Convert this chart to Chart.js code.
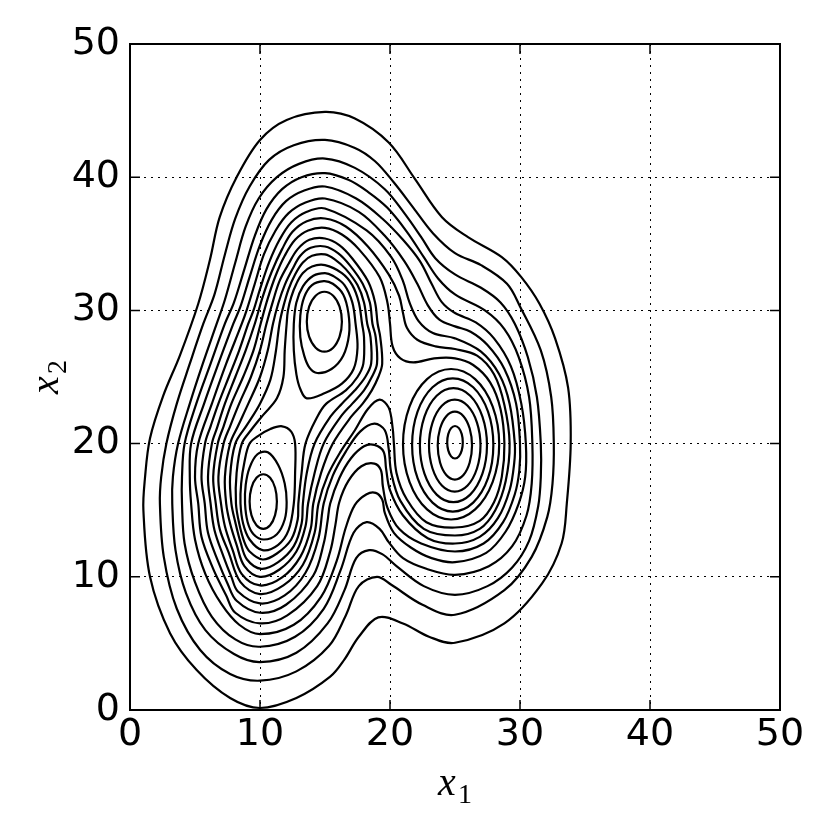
<!DOCTYPE html>
<html>
<head>
<meta charset="utf-8">
<script src="https://cdn.jsdelivr.net/npm/chart.js@4/dist/chart.umd.min.js"></script>
<style>
  html, body { margin: 0; padding: 0; background: #fff; }
  canvas { display: block; }
</style>
</head>
<body>
<canvas id="contour" width="830" height="830"></canvas>
<script>
// Axis ticks (both axes)
const tickValues = [0, 10, 20, 30, 40, 50];

// Contour lines, outer level first: [x1, x2] points
// levels 1-9 enclose all three peaks
const level01 = [[10,0.15],[12.8,0.9],[15.4,2.5],[16.5,3.8],[17.6,5.5],[19.1,6.95],[21.0,6.5],[23,5.5],[25,5.05],[28.8,6.5],[31.7,9.5],[33.2,12.5],[33.6,15.5],[33.9,20],[33.7,24.2],[32.7,27.9],[31.5,30.5],[30.1,32.5],[28.6,34.0],[26,35.5],[24,37.0],[21.9,39.9],[19.9,42.6],[17.3,44.4],[15,44.9],[12.05,44.3],[10,42.8],[8.2,40.0],[6.9,37.0],[6.15,33.8],[5.25,30.5],[3.85,26.65],[2.56,23.6],[1.54,20.4],[1.15,17.4],[1.03,15.0],[1.54,10.0],[3.08,5.77],[5.13,3.0],[7.7,0.9]];
const level02 = [[10,2.2],[12.8,2.9],[15.3,4.8],[16.6,7.1],[17.6,9.3],[19.0,10.0],[20.1,9.4],[22.5,7.9],[25,7.15],[28.8,9.0],[30.9,11.5],[32.1,14.5],[32.5,17],[32.6,20],[32.4,23.5],[31.6,27],[30.0,30.3],[29.0,32.0],[27.0,33.4],[25,34.3],[23.3,35.8],[21.8,37.7],[20.3,39.6],[18.85,41.2],[17.3,42.2],[15,42.8],[12.6,42.4],[10.7,41.3],[9.2,39.3],[8.1,36.9],[7.3,34.2],[6.5,31.2],[5.64,29],[4.6,26],[3.6,23],[2.8,20],[2.4,17.5],[2.3,15.5],[2.6,11.5],[3.6,7.6],[5.4,4.5],[7.7,2.7]];
const level03 = [[10,3.6],[12.8,4.3],[15.2,6.5],[16.5,9.0],[17.4,11.4],[18.4,12.0],[19.4,11.7],[20.5,10.8],[22.6,9.3],[25,8.65],[27.5,9.3],[29.4,10.7],[30.7,12.7],[31.4,15.3],[31.6,17.5],[31.6,20],[31.3,23.5],[30.6,26.5],[29.6,29.0],[28.5,30.6],[27.0,31.7],[25,32.7],[23.5,33.9],[22.4,35.5],[21.1,37.3],[19.6,39.1],[17.3,40.7],[15,41.4],[13.0,41.0],[11.3,40.0],[9.9,38.4],[8.9,36.3],[8.1,33.6],[7.3,30.8],[6.67,29],[5.6,26],[4.6,23],[3.7,20],[3.3,17.5],[3.25,15.5],[3.5,12],[4.3,8.8],[5.8,6.0],[8.0,4.2]];
const level04 = [[10,4.75],[12.7,5.5],[14.9,7.6],[16.2,10.5],[17.2,13.3],[18.2,14.1],[19.2,13.6],[19.9,12.6],[21.0,11.4],[22.8,10.6],[25,10.15],[27.6,10.8],[29.4,12.3],[30.5,14.6],[30.9,17],[30.95,20],[30.7,23.5],[29.9,26.5],[28.8,28.6],[27.3,30.0],[25,31.2],[23.7,32.4],[22.6,34.0],[21.3,35.9],[19.8,37.7],[18.3,38.9],[16.8,39.8],[15,40.3],[13.2,40.0],[11.7,39.1],[10.5,37.6],[9.6,35.6],[8.8,33.1],[8.0,30.6],[7.3,29],[6.2,26],[5.1,23],[4.2,20],[4.0,17.5],[4.0,15.5],[4.2,12.5],[5.0,9.6],[6.3,7.0],[8.1,5.3]];
const level05 = [[10,5.7],[12.6,6.4],[14.7,8.5],[15.9,11.2],[16.6,13.7],[17.3,15.4],[18.2,16.2],[18.9,16.3],[19.4,15.8],[19.6,14.8],[20.3,13.3],[21.6,12.2],[23.2,11.4],[25,11.1],[27.4,11.8],[28.9,13.4],[29.9,15.5],[30.4,17.5],[30.45,20],[30.1,23],[29.3,25.8],[28.0,27.9],[26.6,29.1],[25,29.8],[24.0,30.6],[23.2,32.0],[22.3,33.7],[21.0,35.3],[19.4,36.9],[17.4,38.4],[15,39.3],[13.4,39.0],[12.0,38.2],[10.9,36.8],[10.0,34.9],[9.2,32.5],[8.5,30.3],[7.95,29],[6.8,26],[5.7,23],[4.7,20],[4.6,17.5],[4.7,15.5],[5.0,12.8],[5.8,10.2],[7.0,8.0],[8.4,6.4]];
const level06 = [[10,6.5],[12.1,7.1],[14.4,9.3],[15.4,11.9],[15.8,13.9],[16.1,15.6],[16.8,17.2],[17.8,18.3],[18.8,18.5],[19.3,18.0],[19.45,16.8],[19.8,15.2],[20.7,13.6],[22.4,12.5],[25,11.9],[27.2,12.5],[28.7,14.1],[29.6,16.2],[29.95,18],[30.0,20],[29.7,23],[28.8,25.6],[27.5,27.4],[26.2,28.4],[25,28.8],[23.8,29.3],[22.9,30.4],[22.1,32.0],[21.1,33.7],[19.6,35.6],[17.6,37.4],[15,38.4],[13.5,38.1],[12.2,37.3],[11.2,36.0],[10.3,34.2],[9.6,32.0],[9.0,30.1],[8.6,29],[7.4,26],[6.3,23],[5.25,20],[5.0,17.5],[5.25,15.5],[5.5,13],[6.4,10.6],[7.4,8.6],[8.1,7.3]];
const level07 = [[10,7.3],[12.0,7.9],[14.1,10.1],[14.9,12.5],[15.2,14.2],[15.4,15.5],[16.1,17.4],[17.0,18.9],[18.0,19.8],[18.8,19.9],[19.5,19.4],[19.7,18.1],[20.0,16.5],[21.0,14.6],[22.9,12.9],[25,12.5],[26.9,13.0],[28.3,14.4],[29.2,16.5],[29.55,18.5],[29.6,20],[29.2,23],[28.4,25.2],[27.0,26.9],[25,27.9],[23.3,28.3],[22.2,29.2],[21.5,30.6],[21.0,32.2],[20.1,34.0],[18.2,36.0],[15,37.65],[13.6,37.4],[12.4,36.6],[11.5,35.3],[10.7,33.6],[10.0,31.6],[9.5,30.0],[9.1,29],[8.4,27],[7.6,25],[6.8,23],[6.2,21.3],[5.77,20],[5.5,17.5],[5.75,15.5],[6.0,13.3],[6.8,11.1],[7.5,9.5],[8.2,8.2]];
const level08 = [[10,8.0],[11.9,8.6],[13.5,10.3],[14.5,12.9],[14.9,15.5],[15.6,17.6],[16.6,19.4],[17.7,20.9],[18.8,21.5],[19.6,21.0],[19.9,19.6],[20.1,17.8],[20.8,15.7],[22.6,13.6],[25,13.1],[26.9,13.6],[28.1,15.0],[28.9,17.2],[29.2,20],[28.8,22.9],[28.0,25.2],[26.7,26.6],[25,27.1],[23.5,27.3],[22.1,27.8],[21.3,28.7],[21.0,29.8],[20.7,31.1],[19.9,32.7],[18.3,34.8],[16.6,36.3],[15,36.9],[13.6,36.7],[12.5,35.9],[11.7,34.6],[10.9,32.9],[10.2,31.0],[9.6,29],[8.9,27],[8.1,25],[7.3,23],[6.7,21.2],[6.3,20],[6.0,17.5],[6.2,15.5],[6.5,13.5],[7.2,11.5],[7.8,10.0],[8.3,8.9]];
const level09 = [[10,8.7],[11.8,9.35],[13.3,10.9],[14.2,13.3],[14.5,15.5],[15.2,17.6],[16.2,19.4],[17.3,21.0],[18.3,22.6],[19.2,23.3],[19.9,22.7],[20.2,21.2],[20.3,20],[20.5,17.8],[21.3,15.8],[22.8,14.1],[25,13.7],[26.9,14.2],[28.0,15.6],[28.6,17.5],[28.8,20],[28.5,22.6],[27.7,24.6],[26.4,25.9],[25,26.4],[23.4,26.4],[21.8,26.1],[20.8,26.4],[20.2,27.3],[20.0,29],[19.8,30.6],[19.2,32.5],[17.6,34.6],[16.3,35.7],[15,36.2],[13.7,36.0],[12.7,35.3],[11.9,34.1],[11.2,32.6],[10.6,30.9],[10.05,29],[9.5,27],[8.7,25],[7.8,23],[7.2,21.3],[6.75,20],[6.4,17.5],[6.6,15.5],[6.9,13.6],[7.6,11.8],[8.5,9.6]];

// levels 10-13 enclose the upper and lower-left peaks
const level10 = [[10,9.35],[11.7,9.95],[13.1,11.5],[13.9,13.6],[14.1,15.5],[14.7,17.8],[15.6,20],[17.0,22],[17.9,23],[18.6,24],[19.1,25],[19.4,26],[19.25,28],[19.05,29],[18.85,30.6],[18.3,32.2],[17.1,33.9],[16.1,34.9],[15,35.4],[13.8,35.3],[12.9,34.6],[12.2,33.5],[11.5,32.2],[11.0,30.7],[10.5,29],[10.0,27],[9.3,25],[8.4,23],[7.7,21.3],[7.2,20],[6.8,17.5],[7.0,15.5],[7.3,13.8],[7.9,12.0],[8.6,10.2]];
const level11 = [[10,10.0],[11.5,10.55],[12.8,11.9],[13.5,13.8],[13.7,15.5],[14.2,17.8],[14.9,20],[16.2,22],[17.1,23],[18.0,24],[18.6,25],[19.0,26],[18.9,28],[18.65,29],[18.45,30.6],[17.9,32.0],[16.9,33.4],[16.0,34.3],[15,34.8],[13.9,34.7],[13.1,34.1],[12.5,33.1],[11.9,31.9],[11.4,30.5],[11.0,29],[10.6,27],[10.0,25],[9.1,23],[8.3,21.3],[7.7,20],[7.3,17.5],[7.4,15.5],[7.7,14.0],[8.2,12.4],[8.8,10.8]];
const level12 = [[10.1,10.6],[11.4,11.1],[12.6,12.3],[13.2,14.0],[13.3,15.5],[13.6,17.8],[14.2,20],[15.4,22],[16.3,23],[17.3,24],[18.1,25],[18.55,26],[18.5,28],[18.25,29],[18.0,30.6],[17.5,31.9],[16.6,33.1],[15.8,33.8],[15,34.2],[14.0,34.1],[13.3,33.6],[12.7,32.7],[12.2,31.6],[11.8,30.3],[11.5,29],[11.2,26.8],[10.8,24.8],[10.0,23.0],[9.0,21.4],[8.1,20],[7.7,17.5],[7.8,15.5],[8.1,14.1],[8.5,12.6],[9.0,11.3]];
const level13 = [[10.2,11.3],[11.3,11.75],[12.4,12.8],[12.9,14.3],[12.95,15.5],[13.2,17.8],[13.5,20],[14.4,22],[15.1,23],[16.6,24],[17.5,25],[17.95,26],[18.0,28],[17.85,29],[17.6,30.6],[17.1,31.9],[16.3,32.8],[15,33.4],[14.0,33.3],[13.3,32.8],[12.8,32.0],[12.4,31.0],[12.15,30.0],[12.05,29],[11.9,27.0],[11.8,25.0],[11.3,23.4],[10.2,22.1],[9.3,21.0],[8.6,20],[8.2,17.8],[8.15,15.5],[8.4,14.0],[8.8,12.6],[9.2,11.9]];

// Closed rings round the upper peak (x1 about 15, x2 about 29)
const upper14 = [[13.6,23.4],[15.0,23.8],[16.3,24.5],[17.2,25.6],[17.5,27.2],[17.35,29],[17.1,30.6],[16.5,31.9],[15.6,32.6],[15,32.8],[14.1,32.6],[13.3,31.8],[12.8,30.6],[12.6,29],[12.6,27],[12.8,25.2],[13.1,24.1]];
const upper15 = [[14.4,25.3],[15.5,25.6],[16.4,26.6],[16.85,28.2],[16.8,29.8],[16.4,31.2],[15.6,32.0],[14.9,32.2],[14.0,31.9],[13.4,31.0],[13.1,29.6],[13.1,28.0],[13.4,26.6],[13.8,25.7]];
const upper16 = [[16.30,29.15],[16.12,30.28],[15.63,31.10],[14.95,31.40],[14.28,31.10],[13.78,30.28],[13.60,29.15],[13.78,28.03],[14.28,27.20],[14.95,26.90],[15.63,27.20],[16.12,28.03]];

// Closed rings round the lower-left peak (x1 about 10, x2 about 15.6)
const lower14 = [[10.2,12.0],[11.4,12.4],[12.2,13.5],[12.6,15.5],[12.7,17.8],[12.7,20],[12.4,20.9],[11.7,21.3],[10.8,21.1],[9.9,20.6],[9.2,20],[8.8,18.6],[8.55,17],[8.5,15.5],[8.7,14.0],[9.2,12.8]];
const lower15 = [[10.3,12.8],[11.3,13.2],[11.9,14.3],[12.05,15.6],[11.9,17.0],[11.4,18.4],[10.6,19.35],[9.8,19.2],[9.2,18.2],[8.9,16.9],[8.85,15.5],[9.05,14.1],[9.5,13.2]];
const lower16 = [[11.30,15.65],[11.16,16.68],[10.78,17.43],[10.25,17.70],[9.73,17.43],[9.34,16.68],[9.20,15.65],[9.34,14.63],[9.73,13.87],[10.25,13.60],[10.78,13.87],[11.16,14.63]];

// Closed rings round the right peak (x1 about 25, x2 about 20), outer first
const rightA = [[28.4,19.95],[27.9,22.78],[26.55,24.84],[24.7,25.6],[22.85,24.84],[21.5,22.78],[21.0,19.95],[21.5,17.13],[22.85,15.06],[24.7,14.3],[26.55,15.06],[27.9,17.13]];
const rightB = [[27.95,19.9],[27.54,22.4],[26.4,24.23],[24.83,24.9],[23.27,24.23],[22.12,22.4],[21.7,19.9],[22.12,17.4],[23.27,15.57],[24.83,14.9],[26.4,15.57],[27.54,17.4]];
const rightC = [[27.46,19.88],[27.11,22.02],[26.17,23.59],[24.88,24.16],[23.59,23.59],[22.65,22.02],[22.3,19.88],[22.65,17.74],[23.59,16.17],[24.88,15.6],[26.17,16.17],[27.11,17.74]];
const rightD = [[26.96,19.85],[26.69,21.58],[25.97,22.84],[24.98,23.3],[23.99,22.84],[23.27,21.58],[23.0,19.85],[23.27,18.13],[23.99,16.86],[24.98,16.4],[25.97,16.86],[26.69,18.13]];
const rightE = [[26.31,19.85],[26.13,21.13],[25.65,22.06],[24.99,22.4],[24.33,22.06],[23.85,21.13],[23.67,19.85],[23.85,18.58],[24.33,17.64],[24.99,17.3],[25.65,17.64],[26.13,18.58]];
const rightF = [[25.6,20.1],[25.52,20.71],[25.3,21.16],[25.0,21.32],[24.7,21.16],[24.48,20.71],[24.4,20.1],[24.48,19.49],[24.7,19.04],[25.0,18.88],[25.3,19.04],[25.52,19.49]];

const contours = [level01, level02, level03, level04, level05, level06, level07, level08, level09,
  level10, level11, level12, level13,
  upper14, upper15, upper16, lower14, lower15, lower16,
  rightA, rightB, rightC, rightD, rightE, rightF];

// every contour is a closed ring
const closeLoops = {
  id: 'closeLoops',
  afterDatasetsUpdate(chart) {
    chart.data.datasets.forEach((ds, i) => {
      const line = chart.getDatasetMeta(i).dataset;
      if (line) { line._loop = true; line._fullLoop = true; }
    });
  }
};

function drawLabel(ctx, main, sub, cx, cy) {
  ctx.font = 'italic 40px "Liberation Serif", "DejaVu Serif", serif';
  const w1 = ctx.measureText(main).width;
  ctx.font = '28px "Liberation Serif", "DejaVu Serif", serif';
  const w2 = ctx.measureText(sub).width;
  const x0 = cx - (w1 + w2 + 2) / 2;
  ctx.textBaseline = 'alphabetic';
  ctx.textAlign = 'left';
  ctx.font = 'italic 40px "Liberation Serif", "DejaVu Serif", serif';
  ctx.fillText(main, x0, cy);
  ctx.font = '28px "Liberation Serif", "DejaVu Serif", serif';
  ctx.fillText(sub, x0 + w1 + 2, cy + 8);
}

const frame = {
  id: 'frame',
  afterDraw(chart) {
    const {ctx, chartArea: a, scales} = chart;
    const tickLen = 10;
    ctx.save();
    ctx.strokeStyle = '#000';
    ctx.lineWidth = 1.5;
    ctx.beginPath();
    tickValues.forEach(v => {
      const px = scales.x.getPixelForValue(v);
      const py = scales.y.getPixelForValue(v);
      ctx.moveTo(px, a.bottom); ctx.lineTo(px, a.bottom - tickLen);
      ctx.moveTo(px, a.top); ctx.lineTo(px, a.top + tickLen);
      ctx.moveTo(a.left, py); ctx.lineTo(a.left + tickLen, py);
      ctx.moveTo(a.right, py); ctx.lineTo(a.right - tickLen, py);
    });
    ctx.stroke();
    ctx.lineWidth = 2;
    ctx.strokeRect(a.left, a.top, a.right - a.left, a.bottom - a.top);

    ctx.fillStyle = '#000';
    drawLabel(ctx, 'x', '1', (a.left + a.right) / 2, 795);
    ctx.translate(58, (a.top + a.bottom) / 2);
    ctx.rotate(-Math.PI / 2);
    drawLabel(ctx, 'x', '2', 0, 0);
    ctx.restore();
  }
};

const gridColor = c => (c.tick && (c.tick.value === 0 || c.tick.value === 50)) ? 'rgba(0,0,0,0)' : '#000';
const tickFont = {family: '"DejaVu Sans", sans-serif', size: 38};

new Chart(document.getElementById('contour'), {
  type: 'line',
  data: {
    datasets: contours.map(pts => ({
      data: pts.map(([x, y]) => ({x, y})),
      borderColor: '#000',
      borderWidth: 2.2,
      pointRadius: 0,
      tension: 0.35,
      fill: false
    }))
  },
  options: {
    responsive: false,
    animation: false,
    events: [],
    layout: { padding: {top: 44, right: 50, left: 0, bottom: 0} },
    plugins: { legend: {display: false}, tooltip: {enabled: false} },
    scales: {
      x: {
        type: 'linear', min: 0, max: 50,
        afterBuildTicks: s => { s.ticks = tickValues.map(v => ({value: v})); },
        afterFit: s => { s.height = 120; },
        ticks: { font: tickFont, color: '#000', padding: 2, maxRotation: 0 },
        grid: { color: gridColor, lineWidth: 1, drawTicks: false },
        border: { display: false, dash: [2, 5] }
      },
      y: {
        type: 'linear', min: 0, max: 50,
        afterBuildTicks: s => { s.ticks = tickValues.map(v => ({value: v})); },
        afterFit: s => { s.width = 130; },
        ticks: { font: tickFont, color: '#000', padding: 10 },
        grid: { color: gridColor, lineWidth: 1, drawTicks: false },
        border: { display: false, dash: [2, 5] }
      }
    }
  },
  plugins: [closeLoops, frame]
});
</script>
</body>
</html>
